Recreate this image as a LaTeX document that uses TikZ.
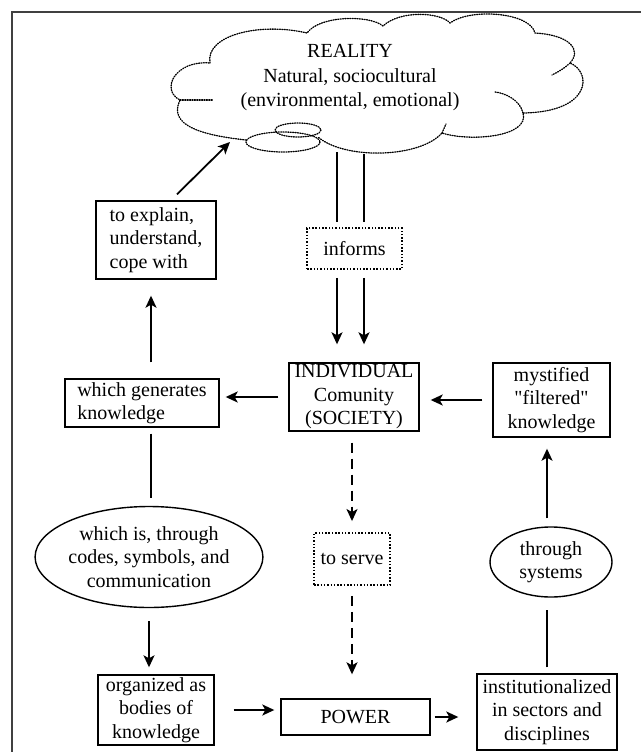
\documentclass[tikz,border=0pt]{standalone}
\usepackage{fontspec}
\setmainfont{Liberation Serif}
\usetikzlibrary{arrows.meta,shapes.geometric}
\begin{document}
\begin{tikzpicture}[x=1pt,y=-1pt,
  every node/.style={font=\fontsize{20}{23.5}\selectfont, inner sep=0pt, align=center},
  box/.style={draw, line width=1.4pt},
  dotbox/.style={draw, line width=1.9pt, dash pattern=on 1.5pt off 1.8pt},
  oval/.style={draw, ellipse, line width=1.4pt},
  conn/.style={line width=1.8pt},
  arr/.style={conn, -{Stealth[length=12pt,width=11pt,inset=3pt]}},
  darr/.style={arr, dash pattern=on 10pt off 6pt},
  cloudline/.style={line width=1.3pt, dash pattern=on 1pt off 1.4pt, line cap=round}]
\useasboundingbox (0,0) rectangle (641,752);
% frame
\draw[line width=1.6pt, black!75] (12,752) -- (12,12) -- (641,12);

% cloud
\draw[cloudline] (210,63) .. controls (205,35) and (260,22) .. (307,33)
  .. controls (320,15) and (370,15) .. (383,26)
  .. controls (400,10) and (440,12) .. (450,23)
  .. controls (470,8) and (530,12) .. (535,33)
  .. controls (570,35) and (582,50) .. (570,63)
  .. controls (592,72) and (592,112) .. (523,113)
  .. controls (530,137) and (470,142) .. (442,133)
  .. controls (420,158) and (345,160) .. (318,137);
\draw[cloudline] (570,63) .. controls (565,68) and (558,72) .. (552,75);
\draw[cloudline] (523,113) .. controls (520,100) and (505,93) .. (495,92);
\draw[cloudline] (442,133) -- (446,124);
\draw[cloudline] (283,142) ellipse [x radius=37, y radius=10];
\draw[cloudline] (298,130) ellipse [x radius=23, y radius=7];
\draw[cloudline] (246,140) .. controls (200,135) and (168,125) .. (180,100)
  .. controls (160,90) and (175,60) .. (210,63);
\draw[cloudline] (180,100) -- (213,100);

\node (reality) at (350,78) {REALITY\\[1pt]Natural, sociocultural\\[1pt](environmental, emotional)};
\coordinate (c1) at (337,152);
\coordinate (c2) at (364,154);
\coordinate (ctip) at (230,142);

% nodes
\node[dotbox, minimum width=95pt, minimum height=41pt] (informs) at (354.5,248.5) {informs};
\node[box, minimum width=130pt, minimum height=68pt] (indiv) at (354,397) {INDIVIDUAL\\Comunity\\(SOCIETY)};
\node[box, minimum width=117pt, minimum height=74pt] (myst) at (551.5,400) {mystified\\\textquotedbl filtered\textquotedbl\\knowledge};
\node[box, minimum width=154pt, minimum height=48pt, align=left] (gen) at (142,403) {which generates\\knowledge};
\node[box, minimum width=120pt, minimum height=78pt, align=left] (explain) at (156,240) {to explain,\\understand,\\cope with};
\node[oval, minimum width=222pt, minimum height=101pt] (comm) at (149,557) {which is, through\\codes, symbols, and\\communication};
\node[box, minimum width=116pt, minimum height=70pt] (org) at (156,710) {organized as\\bodies of\\knowledge};
\node[box, minimum width=149pt, minimum height=36pt] (power) at (355.5,717) {POWER};
\node[box, minimum width=140pt, minimum height=76pt] (inst) at (547,712) {institutionalized\\in sectors and\\disciplines};
\node[oval, minimum width=122pt, minimum height=70pt] (sys) at (551,562) {through\\systems};
\node[dotbox, minimum width=76pt, minimum height=52pt] (serve) at (352,559) {to serve};

% connectors
\draw[conn, shorten >=5pt] (c1) -- (c1 |- informs.north);
\draw[conn, shorten >=5pt] (c2) -- (c2 |- informs.north);
\draw[arr, shorten <=8pt, shorten >=18pt] (c1 |- informs.south) -- (c1 |- indiv.north);
\draw[arr, shorten <=8pt, shorten >=18pt] (c2 |- informs.south) -- (c2 |- indiv.north);
\draw[arr, shorten <=10pt, shorten >=11pt] (myst.west) -- (myst.west -| indiv.east);
\draw[arr, shorten <=10pt, shorten >=6pt] (indiv.west) -- (indiv.west -| gen.east);
\draw[arr, shorten <=16pt, shorten >=16pt] ([xshift=9pt]gen.north) -- ([xshift=-5pt]explain.south);
\draw[arr] ([xshift=21pt,yshift=6pt]explain.north) -- (ctip);
\draw[conn, shorten <=6pt, shorten >=8pt] ([xshift=9pt]gen.south) -- ([xshift=9pt]gen.south |- comm.north);
\draw[arr, shorten <=13pt, shorten >=7pt] (comm.south) -- (comm.south |- org.north);
\draw[arr, shorten <=19pt, shorten >=6pt] (org.east) -- (org.east -| power.west);
\draw[arr, shorten <=4pt, shorten >=18pt] (power.east) -- (power.east -| inst.west);
\draw[conn, shorten <=6pt, shorten >=12pt] (inst.north) -- (inst.north |- sys.south);
\draw[arr, shorten <=8pt, shorten >=11pt] (inst.north |- sys.north) -- (inst.north |- myst.south);
\draw[darr, shorten <=11pt, shorten >=11pt] (serve.north |- indiv.south) -- (serve.north);
\draw[darr, shorten <=10pt, shorten >=24pt] (serve.south) -- (serve.south |- power.north);
\end{tikzpicture}
\end{document}
